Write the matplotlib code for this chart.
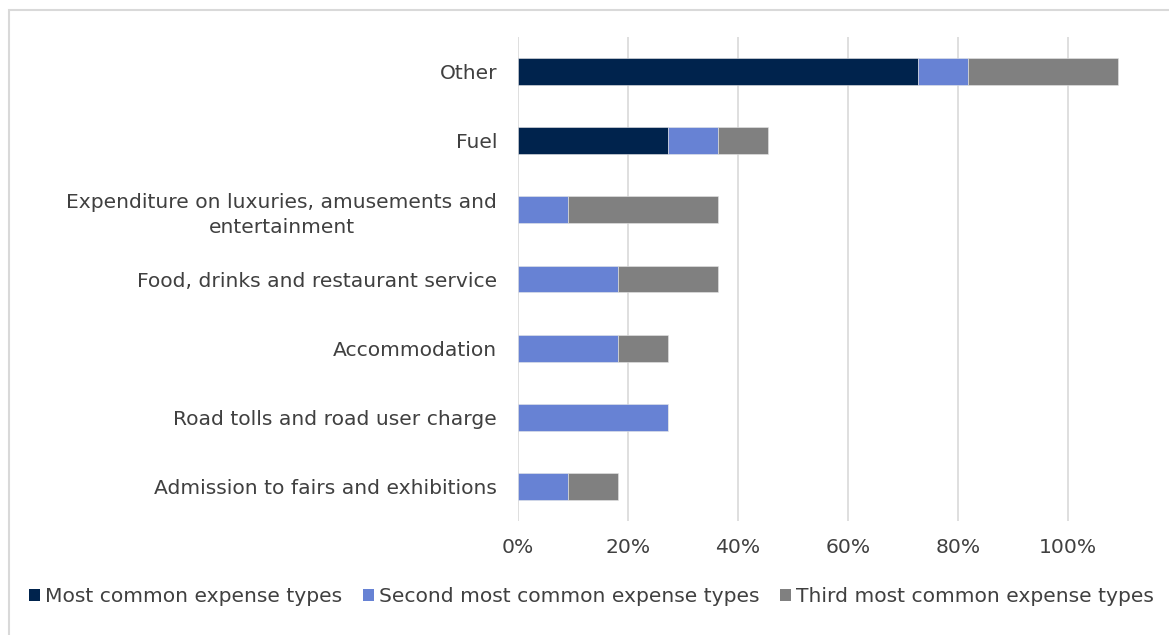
import matplotlib.pyplot as plt
from matplotlib.patches import Patch, Rectangle
from matplotlib.ticker import FuncFormatter

categories = [
    "Other",
    "Fuel",
    "Expenditure on luxuries, amusements and\nentertainment",
    "Food, drinks and restaurant service",
    "Accommodation",
    "Road tolls and road user charge",
    "Admission to fairs and exhibitions",
]
most_common = [72.7, 27.3, 0, 0, 0, 0, 0]
second_common = [9.1, 9.1, 9.1, 18.2, 18.2, 27.3, 9.1]
third_common = [27.3, 9.1, 27.3, 18.2, 9.1, 0, 9.1]
series_names = ["Most common expense types", "Second most common expense types",
                "Third most common expense types"]
colors = ["#00234d", "#6782d4", "#808080"]

fig = plt.figure(figsize=(11.69, 6.35), dpi=100)
fig.patches.append(Rectangle((9 / 1169, -0.01), 1, 1.01 - 10 / 635, transform=fig.transFigure,
                             fill=False, edgecolor="#d9d9d9", linewidth=1.5, zorder=0))
ax = fig.add_axes([518 / 1169, 1 - 521 / 635, (1134 - 518) / 1169, (521 - 37) / 635])

y = list(range(len(categories)))
left = [0] * len(categories)
for vals, col, name in zip([most_common, second_common, third_common], colors, series_names):
    ax.barh(y, vals, left=left, height=0.39, color=col, label=name,
            edgecolor="#e6e6e6", linewidth=0.4, zorder=3)
    left = [l + v for l, v in zip(left, vals)]

ax.set_ylim(len(categories) - 0.5, -0.5)
ax.set_xlim(0, 112)
ax.set_xticks([0, 20, 40, 60, 80, 100])
ax.xaxis.set_major_formatter(FuncFormatter(lambda v, p: f"{v:.0f}%"))
ax.grid(axis="x", color="#d9d9d9", linewidth=1.2, zorder=0)
for s in ax.spines.values():
    s.set_visible(False)
ax.tick_params(axis="both", length=0, labelsize=14.6, colors="#404040")
ax.tick_params(axis="x", pad=12)
ax.tick_params(axis="y", pad=15)
ax.set_yticks(y)
ax.set_yticklabels(categories)
for lab in ax.get_yticklabels():
    lab.set_multialignment("center")
    lab.set_linespacing(1.4)

handles = [Patch(facecolor=c, edgecolor="none") for c in colors]
fig.legend(handles, series_names, loc="center", bbox_to_anchor=(0.506, 1 - 597 / 635),
           ncol=3, frameon=False, fontsize=14.6, handlelength=0.55, handleheight=0.55,
           handletextpad=0.25, columnspacing=1.0, labelcolor="#404040")

fig.savefig("out.png", dpi=100)
